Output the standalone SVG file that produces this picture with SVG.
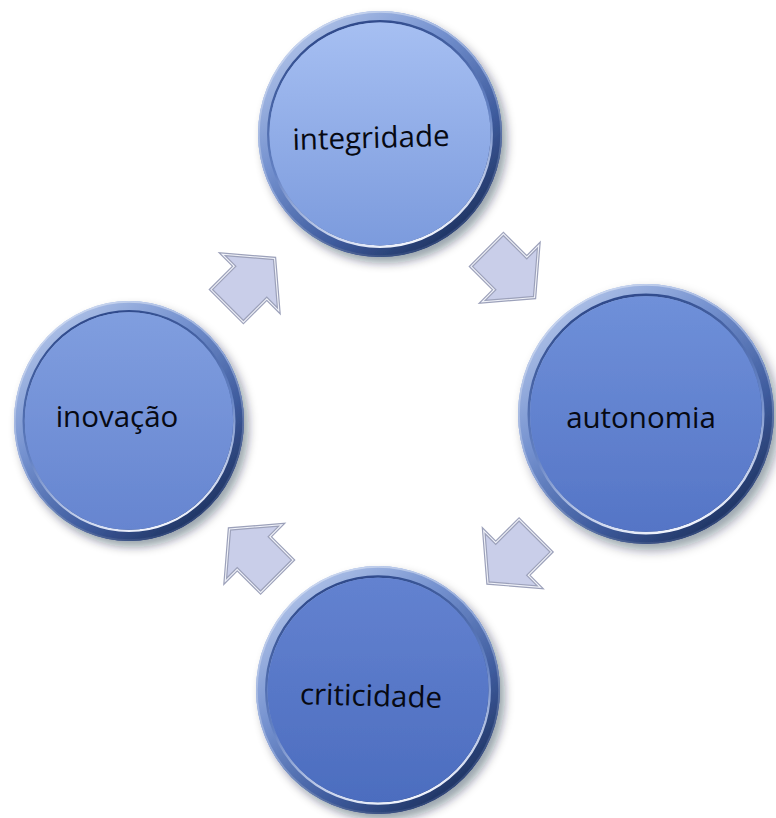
<svg xmlns="http://www.w3.org/2000/svg" xmlns:xlink="http://www.w3.org/1999/xlink" width="776" height="818" viewBox="0 0 776 818">
  <style>
    .lbl { font-family: "Open Sans", "Liberation Sans", sans-serif; font-size: 29.5px; fill: #070912; text-anchor: middle; }
    .arr { fill: #c9cee9; stroke: #9ca1ba; stroke-width: 3.5; stroke-linejoin: miter; }
    .arrHi { fill: none; stroke: #f0f2f9; stroke-width: 1.1; stroke-linejoin: miter; }
  </style>
  <defs>
    <linearGradient id="rim" x1="0.15" y1="0.05" x2="0.85" y2="0.95">
      <stop offset="0" stop-color="#b4c6ea"/>
      <stop offset="0.35" stop-color="#7491cf"/>
      <stop offset="0.7" stop-color="#3e5b9d"/>
      <stop offset="1" stop-color="#1a2d58"/>
    </linearGradient>
    <linearGradient id="rimInner" x1="0.3" y1="0" x2="0.6" y2="1">
      <stop offset="0" stop-color="#2c4788"/>
      <stop offset="0.55" stop-color="#6482c4"/>
      <stop offset="1" stop-color="#f2f5fd"/>
    </linearGradient>
    <linearGradient id="rimOuter" x1="0.2" y1="0" x2="0.8" y2="1">
      <stop offset="0" stop-color="#d2ddf3"/>
      <stop offset="0.5" stop-color="#8aa2d6"/>
      <stop offset="1" stop-color="#22386a"/>
    </linearGradient>
    <linearGradient id="f1" x1="0" y1="0" x2="0" y2="1">
      <stop offset="0" stop-color="#a6bff2"/>
      <stop offset="1" stop-color="#7c9bdd"/>
    </linearGradient>
    <linearGradient id="f2" x1="0" y1="0" x2="0" y2="1">
      <stop offset="0" stop-color="#6f90d9"/>
      <stop offset="1" stop-color="#5575c6"/>
    </linearGradient>
    <linearGradient id="f3" x1="0" y1="0" x2="0" y2="1">
      <stop offset="0" stop-color="#6382d0"/>
      <stop offset="1" stop-color="#4c6dbf"/>
    </linearGradient>
    <linearGradient id="f4" x1="0" y1="0" x2="0" y2="1">
      <stop offset="0" stop-color="#809edf"/>
      <stop offset="1" stop-color="#6685d0"/>
    </linearGradient>
    <filter id="shadow" x="-20%" y="-20%" width="140%" height="140%">
      <feDropShadow dx="4" dy="5" stdDeviation="4" flood-color="#0a1430" flood-opacity="0.4"/>
    </filter>
    <g id="disc">
      <circle r="100" fill="url(#rim)"/>
      <circle r="99.3" fill="none" stroke="url(#rimOuter)" stroke-width="1.4"/>
      <circle r="91.6" fill="none" stroke="url(#rimInner)" stroke-width="2"/>
      <circle r="90.6"/>
    </g>
    <polygon id="arrow" points="-33,-23 0,-23 0,-40 34,0 0,40 0,23 -33,23"/>
  </defs>

  <g id="connectors">
    <g transform="translate(510.5,273.5) rotate(45)">
      <use xlink:href="#arrow" class="arr"/>
      <use xlink:href="#arrow" class="arrHi"/>
    </g>
    <g transform="translate(512,559) rotate(135)">
      <use xlink:href="#arrow" class="arr"/>
      <use xlink:href="#arrow" class="arrHi"/>
    </g>
    <g transform="translate(253.5,553) rotate(-135)">
      <use xlink:href="#arrow" class="arr"/>
      <use xlink:href="#arrow" class="arrHi"/>
    </g>
    <g transform="translate(250.5,282.5) rotate(-45)">
      <use xlink:href="#arrow" class="arr"/>
      <use xlink:href="#arrow" class="arrHi"/>
    </g>
  </g>

  <g id="node-integridade">
    <use xlink:href="#disc" fill="url(#f1)" filter="url(#shadow)" transform="translate(380,134) scale(1.22,1.23)"/>
    <text class="lbl" x="371" y="148" transform="rotate(-1.5 371 140)">integridade</text>
  </g>
  <g id="node-autonomia">
    <use xlink:href="#disc" fill="url(#f2)" filter="url(#shadow)" transform="translate(646,414) scale(1.28,1.3)"/>
    <text class="lbl" x="641" y="428">autonomia</text>
  </g>
  <g id="node-criticidade">
    <use xlink:href="#disc" fill="url(#f3)" filter="url(#shadow)" transform="translate(378,690) scale(1.22,1.24)"/>
    <text class="lbl" x="371" y="706" transform="rotate(1.5 371 697)">criticidade</text>
  </g>
  <g id="node-inovacao">
    <use xlink:href="#disc" fill="url(#f4)" filter="url(#shadow)" transform="translate(129,421) scale(1.15,1.2)"/>
    <text class="lbl" x="117" y="427">inovação</text>
  </g>
</svg>
